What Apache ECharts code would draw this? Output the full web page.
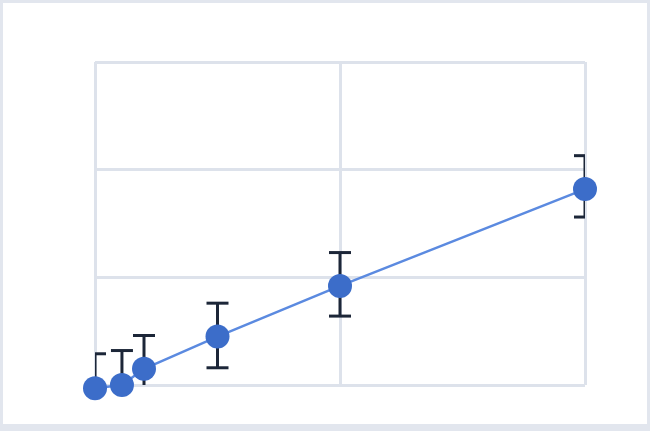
<!DOCTYPE html>
<html>
<head>
<meta charset="utf-8">
<script src="https://cdn.jsdelivr.net/npm/echarts@6/dist/echarts.min.js"></script>
<style>
  html, body { margin: 0; padding: 0; background: #ffffff; }
  #frame { width: 650px; height: 431px; box-sizing: border-box; border-style: solid; border-color: #e2e6ee; border-width: 3px 3px 7px 3px; position: relative; }
  #chart { position: absolute; left: -3px; top: -3px; width: 650px; height: 431px; }
</style>
</head>
<body>
<div id="frame"><div id="chart"></div></div>
<script>
const xValues = [0, 0.11, 0.2, 0.5, 1.0, 2.0];
const yValues = [-0.03, 0.0, 0.15, 0.45, 0.92, 1.82];
const errLow  = [-0.32, -0.30, -0.15, 0.16, 0.64, 1.56];
const errHigh = [0.29, 0.32, 0.46, 0.76, 1.23, 2.13];
const xTicks = { min: 0, max: 2, interval: 1 };
const yTicks = { min: 0, max: 3, interval: 1 };

const points = xValues.map((x, i) => [x, yValues[i]]);
const errData = xValues.map((x, i) => [x, errLow[i], errHigh[i]]);

const chart = echarts.init(document.getElementById('chart'), null, { renderer: 'canvas' });
chart.setOption({
  animation: false,
  backgroundColor: 'transparent',
  grid: { left: 95, right: 65, top: 62, bottom: 46, containLabel: false },
  xAxis: {
    type: 'value', min: xTicks.min, max: xTicks.max, interval: xTicks.interval,
    axisLine: { show: false }, axisTick: { show: false }, axisLabel: { show: false },
    splitLine: { show: true, lineStyle: { color: '#dde2eb', width: 3 } }
  },
  yAxis: {
    type: 'value', min: yTicks.min, max: yTicks.max, interval: yTicks.interval,
    axisLine: { show: false }, axisTick: { show: false }, axisLabel: { show: false },
    splitLine: { show: true, lineStyle: { color: '#dde2eb', width: 3 } }
  },
  series: [
    {
      type: 'custom',
      clip: true,
      z: 1,
      data: errData,
      renderItem: function (params, api) {
        const x = api.value(0);
        const lo = api.coord([x, api.value(1)]);
        const hi = api.coord([x, api.value(2)]);
        const hw = 11;
        const style = { stroke: '#1c2638', lineWidth: 3, fill: null };
        return {
          type: 'group',
          children: [
            { type: 'line', shape: { x1: hi[0], y1: hi[1], x2: lo[0], y2: lo[1] }, style: style },
            { type: 'line', shape: { x1: hi[0] - hw, y1: hi[1], x2: hi[0] + hw, y2: hi[1] }, style: style },
            { type: 'line', shape: { x1: lo[0] - hw, y1: lo[1], x2: lo[0] + hw, y2: lo[1] }, style: style }
          ]
        };
      }
    },
    {
      type: 'line',
      z: 2,
      clip: false,
      data: points,
      symbol: 'circle',
      symbolSize: 24,
      lineStyle: { color: '#5b8ae0', width: 2.5 },
      itemStyle: { color: '#3c6dc9' }
    }
  ]
});
</script>
</body>
</html>
